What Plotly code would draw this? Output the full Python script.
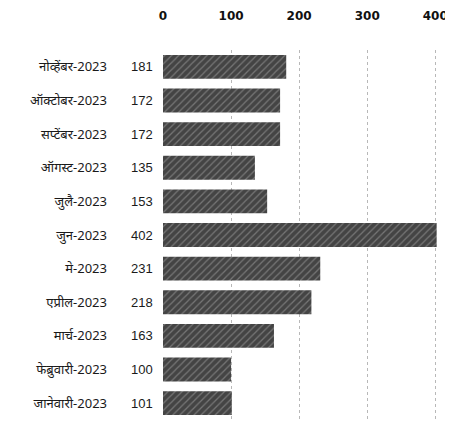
import plotly.graph_objects as go

months = ["जानेवारी-2023", "फेब्रुवारी-2023", "मार्च-2023", "एप्रील-2023", "मे-2023",
          "जुन-2023", "जुलै-2023", "ऑगस्ट-2023", "सप्टेंबर-2023", "ऑक्टोबर-2023",
          "नोव्हेंबर-2023"]
values = [101, 100, 163, 218, 231, 402, 153, 135, 172, 172, 181]
tick_vals = [0, 100, 200, 300, 400]

fig = go.Figure()
fig.add_trace(go.Bar(
    y=months, x=values, orientation="h",
    marker=dict(color="#444444", line=dict(width=0),
                pattern=dict(shape="/", fgcolor="#a8a8a8", size=5, solidity=0.25)),
    hoverinfo="skip",
))

for m, v in zip(months, values):
    fig.add_annotation(x=0, y=m, xref="x", yref="y", text=str(v), showarrow=False,
                       xanchor="right", xshift=-8,
                       font=dict(family="Liberation Sans, Arial", size=13, color="#1a1a1a"))

fig.update_layout(
    width=445, height=412,
    margin=dict(l=155, r=0, t=42, b=0, autoexpand=False),
    paper_bgcolor="white", plot_bgcolor="white",
    bargap=0.29, showlegend=False,
    font=dict(family="Noto Sans, Liberation Sans, Arial", size=13, color="#1a1a1a"),
)
fig.update_xaxes(side="top", range=[0, 426], tickvals=tick_vals, automargin=False,
                 showgrid=True, gridcolor="#b8b8b8", griddash="dot", gridwidth=1,
                 zeroline=False, showline=False, ticks="",
                 ticklabelstandoff=27, ticklabeloverflow="allow",
                 tickfont=dict(family="DejaVu Sans, Liberation Sans", size=12, color="#111",
                               weight="bold"))
fig.update_yaxes(showgrid=False, showline=False, ticks="", ticklabelstandoff=55,
                 automargin=False,
                 tickfont=dict(family="Noto Sans, Liberation Sans", size=13, color="#1a1a1a"))

fig.write_html("out.html")
